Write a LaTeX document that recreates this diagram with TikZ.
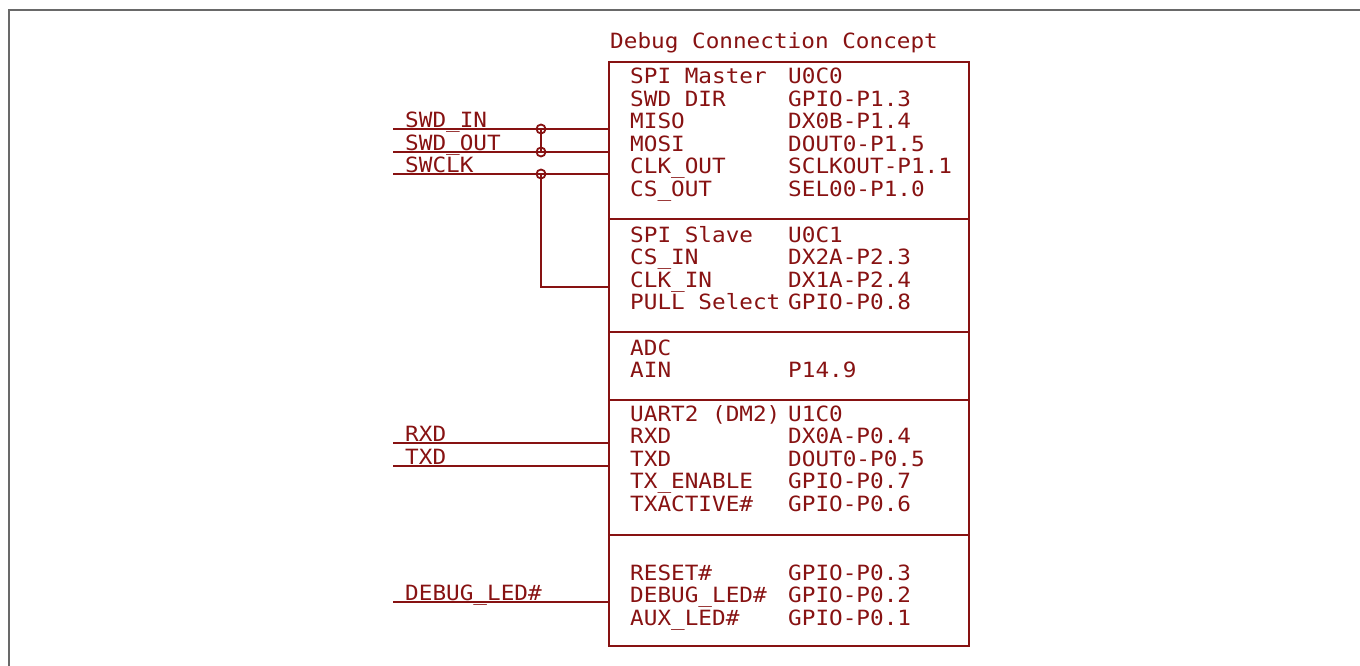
\documentclass[tikz,border=0pt]{standalone}
\usepackage{fontspec}
\newfontfamily\eagle[FakeStretch=1.08]{DejaVu Sans Mono}
\definecolor{ered}{RGB}{135,18,18}
\definecolor{fgray}{RGB}{105,105,105}
\begin{document}
\begin{tikzpicture}[x=1pt,y=-1pt,
  sec/.style={draw=ered,line width=2.6pt,minimum width=360pt,inner sep=0pt,outer sep=0pt},
  txt/.style={anchor=base west,inner sep=0pt,text=ered,font=\eagle\fontsize{21}{22}\selectfont},
  wire/.style={draw=ered,line width=2.3pt},
  junc/.style={draw=ered,line width=1.8pt}]
\useasboundingbox (0,0) rectangle (1360,666);
% outer frame
\draw[fgray,line width=2pt] (9,666) -- (9,10) -- (1360,10);
% title
\node[txt] (title) at (610,49) {Debug Connection Concept};
% sections
\node[sec,minimum height=157pt] (s1) at (789,140.5) {};
\node[sec,minimum height=113pt] (s2) at (789,275.5) {};
\node[sec,minimum height=68pt] (s3) at (789,366) {};
\node[sec,minimum height=135pt] (s4) at (789,467.5) {};
\node[sec,minimum height=111pt] (s5) at (789,590.5) {};
% section 1
\node[txt] (a1) at (630,84) {SPI Master};   \node[txt] (b1) at (788,84) {U0C0};
\node[txt] (a2) at (630,106.5) {SWD DIR};   \node[txt] (b2) at (788,106.5) {GPIO-P1.3};
\node[txt] (a3) at (630,129) {MISO};        \node[txt] (b3) at (788,129) {DX0B-P1.4};
\node[txt] (a4) at (630,151.5) {MOSI};      \node[txt] (b4) at (788,151.5) {DOUT0-P1.5};
\node[txt] (a5) at (630,174) {CLK\_OUT};    \node[txt] (b5) at (788,174) {SCLKOUT-P1.1};
\node[txt] (a6) at (630,196.5) {CS\_OUT};   \node[txt] (b6) at (788,196.5) {SEL00-P1.0};
% section 2
\node[txt] (c1) at (630,242) {SPI Slave};   \node[txt] (d1) at (788,242) {U0C1};
\node[txt] (c2) at (630,264.5) {CS\_IN};    \node[txt] (d2) at (788,264.5) {DX2A-P2.3};
\node[txt] (c3) at (630,287) {CLK\_IN};     \node[txt] (d3) at (788,287) {DX1A-P2.4};
\node[txt] (c4) at (630,309.5) {PULL Select}; \node[txt] (d4) at (788,309.5) {GPIO-P0.8};
% section 3
\node[txt] (e1) at (630,355) {ADC};
\node[txt] (e2) at (630,377.5) {AIN};       \node[txt] (f2) at (788,377.5) {P14.9};
% section 4
\node[txt] (g1) at (630,421) {UART2 (DM2)}; \node[txt] (h1) at (788,421) {U1C0};
\node[txt] (g2) at (630,443.5) {RXD};       \node[txt] (h2) at (788,443.5) {DX0A-P0.4};
\node[txt] (g3) at (630,466) {TXD};         \node[txt] (h3) at (788,466) {DOUT0-P0.5};
\node[txt] (g4) at (630,488.5) {TX\_ENABLE}; \node[txt] (h4) at (788,488.5) {GPIO-P0.7};
\node[txt] (g5) at (630,511) {TXACTIVE\#};  \node[txt] (h5) at (788,511) {GPIO-P0.6};
% section 5
\node[txt] (k1) at (630,580) {RESET\#};     \node[txt] (m1) at (788,580) {GPIO-P0.3};
\node[txt] (k2) at (630,602.5) {DEBUG\_LED\#}; \node[txt] (m2) at (788,602.5) {GPIO-P0.2};
\node[txt] (k3) at (630,625) {AUX\_LED\#};  \node[txt] (m3) at (788,625) {GPIO-P0.1};
% wire labels
\node[txt] (lin) at (405,127.5) {SWD\_IN};
\node[txt] (lout) at (405,150.5) {SWD\_OUT};
\node[txt] (lclk) at (405,172.5) {SWCLK};
\node[txt] (lrx) at (405,441.5) {RXD};
\node[txt] (ltx) at (405,464.5) {TXD};
\node[txt] (lled) at (405,600.5) {DEBUG\_LED\#};
% wire coordinates
\coordinate (win) at (393,129);
\coordinate (wout) at (393,152);
\coordinate (wclk) at (393,174);
\coordinate (wrx) at (393,443);
\coordinate (wtx) at (393,466);
\coordinate (wled) at (393,602);
\coordinate (j1) at (541,129);
\coordinate (j2) at (541,152);
\coordinate (j3) at (541,174);
\coordinate (cin) at (609,287);
% wires
\draw[wire] (win) -- (win -| s1.west);
\draw[wire] (wout) -- (wout -| s1.west);
\draw[wire] (wclk) -- (wclk -| s1.west);
\draw[wire] (j1) -- (j2);
\draw[wire] (j3) |- (cin);
\draw[wire] (wrx) -- (wrx -| s4.west);
\draw[wire] (wtx) -- (wtx -| s4.west);
\draw[wire] (wled) -- (wled -| s5.west);
% junctions
\draw[junc] (j1) circle (4.5pt);
\draw[junc] (j2) circle (4.5pt);
\draw[junc] (j3) circle (4.5pt);
\end{tikzpicture}
\end{document}
